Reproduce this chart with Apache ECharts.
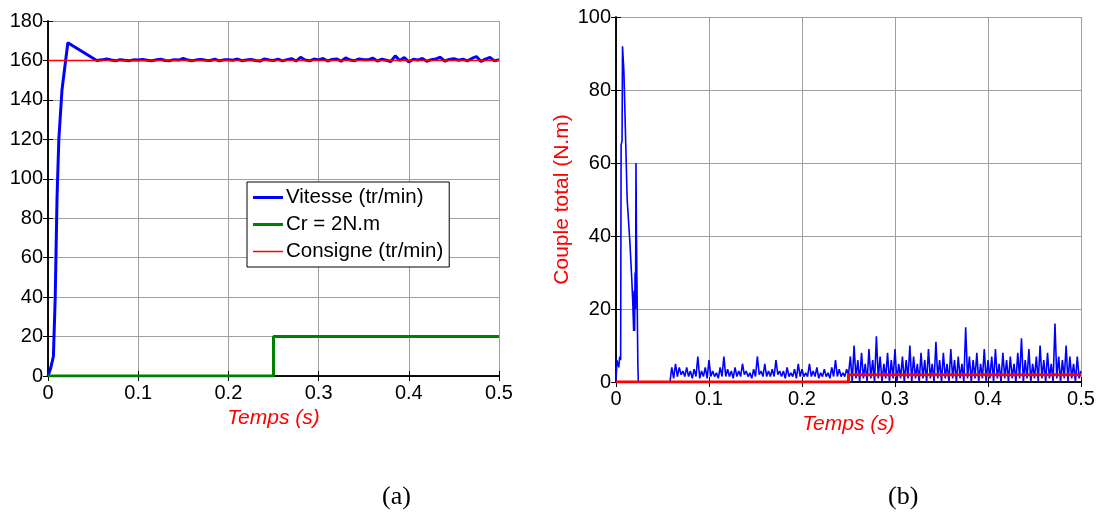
<!DOCTYPE html>
<html>
<head>
<meta charset="utf-8">
<script src="https://cdn.jsdelivr.net/npm/echarts@6/dist/echarts.min.js"></script>
<style>
html,body{margin:0;padding:0;background:#fff;}
#c{width:1098px;height:526px;}
</style>
</head>
<body>
<div id="c"></div>
<script>
// ---------- DATA ----------
// (a) speed response
const speedT = [0, 0.003, 0.006, 0.008, 0.010, 0.012, 0.0155, 0.022, 0.054];
const speedV = [0, 4, 10, 40, 90, 120, 145, 169, 160];
// speed ripple after settling: starts at 0.055, sampled every 0.005 s
const speedRippleStart = 0.055;
const speedRippleStep = 0.005;
const speedRipple = [
  160,160.3,160.8,160.2,159.8,160.4,160.1,159.9,160.3,160.2,
  160.5,160.1,159.8,160.3,160.6,160.0,159.9,160.4,160.2,161.0,
  160.2,159.9,160.3,160.5,160.1,160.0,160.6,159.8,160.3,160.4,
  160.1,160.7,159.9,160.2,160.5,160.0,159.7,160.8,160.2,160.0,
  160.6,159.8,160.4,160.9,159.7,161.6,160.2,159.8,160.7,160.3,
  161.0,159.7,160.5,160.8,159.6,161.3,160.2,159.9,160.8,160.4,
  160.3,161.2,159.7,160.6,160.1,159.5,162.3,160.0,161.5,159.3,
  160.6,160.2,161.0,159.6,160.4,160.8,161.6,159.7,160.5,160.9,
  160.1,160.6,159.8,161.0,162.0,159.5,160.7,161.5,159.8,160.4
];
const crT = [0, 0.25, 0.25, 0.5];
const crV = [0, 0, 20, 20];
const consigneT = [0, 0.5];
const consigneV = [160, 160];

// (b) total torque
const torqueT = [0,0.001,0.003,0.004,0.005,0.0055,0.0065,0.007,0.008,0.0085,0.010,0.012,0.015,0.017,0.018,0.019,0.0195,0.020,0.0205,0.021,0.0215,0.022,0.0235,0.024,0.058];
const torqueV = [0,6,4,7,6,65,66,92,92,85,70,50,38,28,22,14,25,14,30,20,60,40,5,0,0];
// ripple before load step: from 0.060, every 0.002 s
const ripple1Start = 0.060;
const rippleStep = 0.002;
const ripple1 = [
  4,1,5,1.5,4,2,3,1.5,4,1.5,3,1,3.5,1.5,7,1,3,1.5,4,1,
  6,1.5,3,1.5,2.5,1,4,1.5,7,1.5,3.5,1.5,3,1,4,1.5,3,1.5,5,2,
  3,1.5,2.5,1,3.5,1.5,7,2,3,1.5,5,1.5,3,1.5,3.5,1.5,6,2,3,1.5,
  3,1,4,1.5,2.5,1.5,3.5,1,5,1.5,3.5,1.5,2.5,1.5,5,1.5,3,1.5,4,1,
  2.5,1.5,3.5,1.5,2.5,1,4,1.5,6,1.5,3.5,1.5,2.5,1.5,3.5
];
// ripple after load step: from 0.250, every 0.002 s
const ripple2Start = 0.250;
const ripple2 = [
  2,7,0,10,1,6,0,8,1,5,0,9,1,6,0,12.5,1,7,0,5,
  1,8,0,6,1,9,0,5,1,7,0,6,1,10,0,7,1,5,0,8,
  1,6,0,9,1,5,0,11,1,6,0,8,1,5,0,9,1,6,0,7,
  1,5,0,15,1,7,0,6,1,8,0,5,1,9,0,6,1,7,0,9,
  1,5,0,8,1,6,0,7,1,5,0,8,1,12,0,6,1,9,0,5,
  1,7,0,10,1,6,0,8,1,5,0,16,1,7,0,6,1,10,0,7,
  1,5,0,7,1,3
];
const crRefT = [0, 0.25, 0.25, 0.5];
const crRefV = [0, 0, 2, 2];

const xMax = 0.5, xInterval = 0.1;
const speedMax = 180, speedInterval = 20;
const torqueMax = 100, torqueInterval = 20;

// ---------- BUILD ----------
const zip = (t, v) => t.map((x, i) => [x, v[i]]);
const seq = (start, step, v) => v.map((y, i) => [+(start + i * step).toFixed(4), y]);

const speedData = zip(speedT, speedV).concat(seq(speedRippleStart, speedRippleStep, speedRipple));
const torqueData = zip(torqueT, torqueV).concat(seq(ripple1Start, rippleStep, ripple1)).concat(seq(ripple2Start, rippleStep, ripple2));

const FONT = 'Liberation Sans';
const gridLine = {show: true, lineStyle: {color: '#a0a0a0', width: 1}};
const tick = {show: true, inside: true, length: 5, lineStyle: {color: '#000'}};
const axLine = {show: true, lineStyle: {color: '#000', width: 1.5}};
const lbl = {color: '#000', fontSize: 20, fontFamily: FONT};
const nameStyle = {color: '#ff0000', fontSize: 21, fontFamily: FONT};

function xAx(grid, name, gap) {
  return [{
    type: 'value', gridIndex: grid, min: 0, max: xMax, interval: xInterval,
    axisLine: axLine, axisTick: tick, splitLine: gridLine,
    axisLabel: Object.assign({margin: 7}, lbl),
    name: name, nameLocation: 'middle', nameGap: gap,
    nameTextStyle: Object.assign({fontStyle: 'italic'}, nameStyle)
  }, {
    type: 'value', gridIndex: grid, position: 'top', min: 0, max: xMax, interval: xInterval,
    axisLine: axLine, axisTick: tick, splitLine: {show: false}, axisLabel: {show: false}
  }];
}
function yAx(grid, max, interval, name) {
  return [{
    type: 'value', gridIndex: grid, min: 0, max: max, interval: interval,
    axisLine: axLine, axisTick: tick, splitLine: gridLine,
    axisLabel: Object.assign({margin: 5}, lbl),
    name: name || '', nameLocation: 'middle', nameGap: 43,
    nameTextStyle: nameStyle
  }, {
    type: 'value', gridIndex: grid, position: 'right', min: 0, max: max, interval: interval,
    axisLine: axLine, axisTick: tick, splitLine: {show: false}, axisLabel: {show: false}
  }];
}

const option = {
  animation: false,
  backgroundColor: '#fff',
  textStyle: {fontFamily: FONT},
  grid: [
    {left: 48, top: 21, width: 451, height: 355, show: false},
    {left: 616, top: 17, width: 465, height: 365, show: false}
  ],
  xAxis: [].concat(xAx(0, 'Temps (s)', 20), xAx(1, 'Temps (s)', 21)),
  yAxis: [].concat(yAx(0, speedMax, speedInterval), yAx(1, torqueMax, torqueInterval, 'Couple total (N.m)')),
  legend: {
    data: [
      {name: 'Vitesse (tr/min)', icon: 'rect'},
      {name: 'Cr = 2N.m', icon: 'rect'},
      {name: 'Consigne (tr/min)', icon: 'path://M0,0H60V3H0Z',
       itemStyle: {color: '#ff0000', borderWidth: 0}}
    ],
    symbolKeepAspect: true,
    orient: 'vertical', left: 247, top: 182,
    padding: [5, 6, 5, 6], itemGap: 6, itemWidth: 30, itemHeight: 3,
    borderColor: '#000', borderWidth: 1, backgroundColor: '#fff', borderRadius: 0,
    textStyle: {fontSize: 20.5, color: '#000', fontFamily: FONT, padding: [0, 0, 0, -2]}
  },
  series: [
    {name: 'Vitesse (tr/min)', type: 'line', xAxisIndex: 0, yAxisIndex: 0, data: speedData,
     symbol: 'none', lineStyle: {color: '#0000ff', width: 3}, itemStyle: {color: '#0000ff'}, z: 2},
    {name: 'Cr = 2N.m', type: 'line', xAxisIndex: 0, yAxisIndex: 0, data: zip(crT, crV),
     symbol: 'none', lineStyle: {color: '#008000', width: 3}, itemStyle: {color: '#008000'}, z: 3},
    {name: 'Consigne (tr/min)', type: 'line', xAxisIndex: 0, yAxisIndex: 0, data: zip(consigneT, consigneV),
     symbol: 'none', lineStyle: {color: '#ff0000', width: 1.5}, itemStyle: {color: '#ff0000'}, z: 4},
    {name: 'Couple total', type: 'line', xAxisIndex: 2, yAxisIndex: 2, data: torqueData,
     symbol: 'none', lineStyle: {color: '#0000ff', width: 1.6}, z: 2},
    {name: 'Cr', type: 'line', xAxisIndex: 2, yAxisIndex: 2, data: zip(crRefT, crRefV),
     symbol: 'none', lineStyle: {color: '#ff0000', width: 3}, z: 3}
  ],
  graphic: [
    {type: 'text', left: 382, top: 484, style: {text: '(a)', font: '26px "Liberation Serif"', fill: '#000'}},
    {type: 'text', left: 888, top: 484, style: {text: '(b)', font: '26px "Liberation Serif"', fill: '#000'}}
  ]
};

const chart = echarts.init(document.getElementById('c'), null, {renderer: 'canvas'});
chart.setOption(option);
</script>
</body>
</html>
